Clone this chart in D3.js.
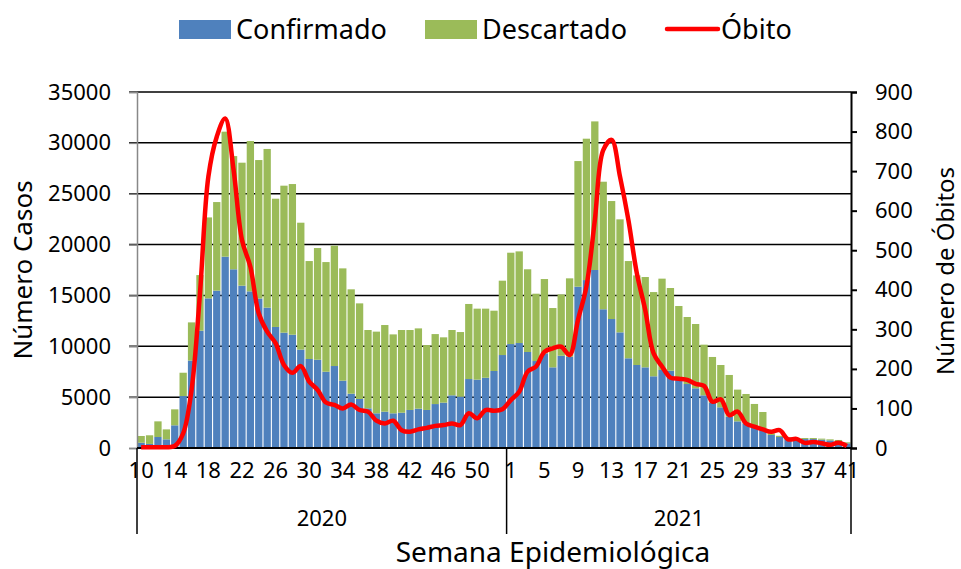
<!DOCTYPE html>
<html lang="pt">
    <head>
        <meta charset="utf-8">
        <title>Casos e óbitos por semana epidemiológica</title>
        <script src="https://d3js.org/d3.v7.min.js"></script>
        <style type="text/css">
         body { margin: 0; background: #fff; }
         text { font-family: "Noto Sans", "Open Sans", sans-serif; fill: #000; }
        </style>
    </head>
    <body>
        <script type="text/javascript">
         // Semanas epidemiológicas
         var weeks2020 = [10,11,12,13,14,15,16,17,18,19,20,21,22,23,24,25,26,27,28,29,30,31,
                          32,33,34,35,36,37,38,39,40,41,42,43,44,45,46,47,48,49,50,51,52,53];
         var weeks2021 = [1,2,3,4,5,6,7,8,9,10,11,12,13,14,15,16,17,18,19,20,21,
                          22,23,24,25,26,27,28,29,30,31,32,33,34,35,36,37,38,39,40,41];

         var confirmado = [520,400,1080,850,2230,5110,8600,11530,14710,15470,18810,17570,15960,15400,14700,13800,11900,11340,11140,9670,8750,8680,
                           7500,8060,6620,5340,4820,3900,3410,3570,3410,3470,3740,3870,3740,4320,4460,5180,5050,6780,6720,6910,7570,9140,
                           10220,10320,9440,8550,9310,7930,9070,8980,15860,16510,17500,13640,12680,11370,8820,8160,7930,7050,7670,7600,6700,
                           6290,5870,5180,4460,4000,3080,2620,2420,2100,1770,1280,1080,960,880,880,880,820,750,690,460];

         var descartado = [660,850,1540,980,1570,2290,3750,5470,7960,8710,12290,11130,12090,14780,13610,15600,12610,14450,14810,12480,9630,10980,
                           10780,11830,11040,10260,9400,7700,8030,8520,7760,8130,7860,7890,6380,6880,6420,6420,6350,7380,6980,6790,5930,7310,
                           8980,9010,8130,6620,7300,5830,6030,7700,12350,13900,14610,12540,11600,11110,9560,8810,8880,8280,8980,8130,7260,
                           6590,6320,4980,4490,4160,4100,3120,2890,2230,1770,160,120,90,100,100,100,100,100,100,100];

         var obito = [2,2,2,2,5,37,147,391,686,787,833,703,526,458,340,294,265,210,190,207,168,147,
                      115,109,100,110,96,92,69,62,69,45,41,47,51,56,58,62,58,88,75,96,94,98,
                      121,142,193,206,243,252,256,235,324,408,576,753,779,686,576,442,349,239,206,178,175,
                      172,162,157,117,123,83,92,62,54,47,41,45,22,23,13,15,12,8,13,5];

         var leftTicks = [0,5000,10000,15000,20000,25000,30000,35000];
         var rightTicks = [0,100,200,300,400,500,600,700,800,900];
         var years = ["2020", "2021"];

         var width = 961, height = 569;
         var margin = {left: 137, right: 110, top: 92, bottom: 121};

         var cats = weeks2020.map(function(w) { return "2020-" + w; })
                    .concat(weeks2021.map(function(w) { return "2021-" + w; }));
         var rows = cats.map(function(c, i) {
             return {key: c, confirmado: confirmado[i], descartado: descartado[i], obito: obito[i]};
         });

         var svg = d3.select("body").append("svg")
                     .attr("width", width)
                     .attr("height", height);

         var x = d3.scaleBand()
                   .domain(cats)
                   .range([margin.left, width - margin.right])
                   .paddingInner(0.13)
                   .paddingOuter(0.06);
         var y = d3.scaleLinear().domain([0, 35000]).range([height - margin.bottom, margin.top]);
         var y2 = d3.scaleLinear().domain([0, 900]).range([height - margin.bottom, margin.top]);

         var x0 = margin.left, x1 = width - margin.right, yb = height - margin.bottom;

         // grid
         svg.append("g").selectAll("line")
            .data(leftTicks.filter(function(t) { return t > 0; }))
            .enter().append("line")
            .attr("x1", x0 - 8).attr("x2", x1)
            .attr("y1", function(d) { return y(d); })
            .attr("y2", function(d) { return y(d); })
            .attr("stroke", "#000").attr("stroke-width", 1.5);

         // stacked bars
         var stack = d3.stack().keys(["confirmado", "descartado"])(rows);
         var colors = {confirmado: "#4F81BD", descartado: "#9BBB59"};
         svg.append("g").selectAll("g")
            .data(stack).enter().append("g")
            .attr("fill", function(d) { return colors[d.key]; })
            .selectAll("rect")
            .data(function(d) { return d; })
            .enter().append("rect")
            .attr("x", function(d) { return x(d.data.key); })
            .attr("width", x.bandwidth())
            .attr("y", function(d) { return y(d[1]); })
            .attr("height", function(d) { return y(d[0]) - y(d[1]); });

         // left axis
         var leftAxis = svg.append("g")
            .attr("transform", "translate(" + x0 + ",0)")
            .call(d3.axisLeft(y).tickValues(leftTicks).tickFormat(d3.format("d")).tickSize(8).tickPadding(18));
         leftAxis.select(".domain").attr("stroke", "#888").attr("stroke-width", 1.5);
         leftAxis.selectAll(".tick line").attr("stroke", "#888").attr("stroke-width", 1.5);
         leftAxis.selectAll("text").style("font-size", "22px").attr("fill", "#000");

         // right axis
         var rightAxis = svg.append("g")
            .attr("transform", "translate(" + x1 + ",0)")
            .call(d3.axisRight(y2).tickValues(rightTicks).tickSize(6).tickPadding(18));
         rightAxis.select(".domain").attr("stroke", "#000").attr("stroke-width", 2);
         rightAxis.selectAll(".tick line").attr("stroke", "#000").attr("stroke-width", 2);
         rightAxis.selectAll("text").style("font-size", "22px").attr("fill", "#000");

         // bottom axis
         var labelled = cats.filter(function(d, i) { return i % 4 === 0; });
         var bottomAxis = svg.append("g")
            .attr("transform", "translate(0," + yb + ")")
            .call(d3.axisBottom(x).tickValues(labelled).tickSize(0).tickPadding(14)
                    .tickFormat(function(k) { return k.split("-")[1]; }));
         bottomAxis.select(".domain").attr("stroke", "#000").attr("stroke-width", 2)
                   .attr("d", "M" + x0 + ",0H" + x1);
         bottomAxis.selectAll("text").style("font-size", "22px").attr("fill", "#000");

         // year separators
         var firstOf2021 = x("2021-1") - x.step() * x.paddingInner() / 2;
         var seps = [x0, firstOf2021, x1];
         svg.append("g").selectAll("line")
            .data(seps).enter().append("line")
            .attr("x1", function(d) { return d; }).attr("x2", function(d) { return d; })
            .attr("y1", yb).attr("y2", yb + 86)
            .attr("stroke", "#000").attr("stroke-width", 1.5);
         svg.append("g").selectAll("text")
            .data(years).enter().append("text")
            .attr("x", function(d, i) { return (seps[i] + seps[i + 1]) / 2; })
            .attr("y", yb + 78)
            .attr("text-anchor", "middle")
            .style("font-size", "22px")
            .text(function(d) { return d; });

         // obito line
         var line = d3.line()
                      .x(function(d) { return x(d.key) + x.bandwidth() / 2; })
                      .y(function(d) { return y2(d.obito); })
                      .curve(d3.curveCatmullRom.alpha(0.5));
         svg.append("path")
            .datum(rows)
            .attr("fill", "none")
            .attr("stroke", "#FF0000")
            .attr("stroke-width", 4.5)
            .attr("stroke-linejoin", "round")
            .attr("d", line);

         // axis titles
         svg.append("text")
            .attr("transform", "translate(32,270) rotate(-90)")
            .attr("text-anchor", "middle")
            .style("font-size", "26px")
            .text("Número Casos");
         svg.append("text")
            .attr("transform", "translate(954,271) rotate(-90)")
            .attr("text-anchor", "middle")
            .style("font-size", "24px")
            .text("Número de Óbitos");
         svg.append("text")
            .attr("x", 553).attr("y", 562)
            .attr("text-anchor", "middle")
            .style("font-size", "28px")
            .text("Semana Epidemiológica");

         // legend
         var legend = svg.append("g");
         legend.append("rect").attr("x", 179).attr("y", 20).attr("width", 52).attr("height", 19).attr("fill", colors.confirmado);
         legend.append("text").attr("x", 236).attr("y", 39).style("font-size", "27px").text("Confirmado");
         legend.append("rect").attr("x", 425).attr("y", 20).attr("width", 52).attr("height", 19).attr("fill", colors.descartado);
         legend.append("text").attr("x", 482).attr("y", 39).style("font-size", "27px").text("Descartado");
         legend.append("line").attr("x1", 667).attr("x2", 718).attr("y1", 29).attr("y2", 29)
               .attr("stroke", "#FF0000").attr("stroke-width", 4.5).attr("stroke-linecap", "round");
         legend.append("text").attr("x", 721).attr("y", 39).style("font-size", "27px").text("Óbito");
        </script>
    </body>
</html>
